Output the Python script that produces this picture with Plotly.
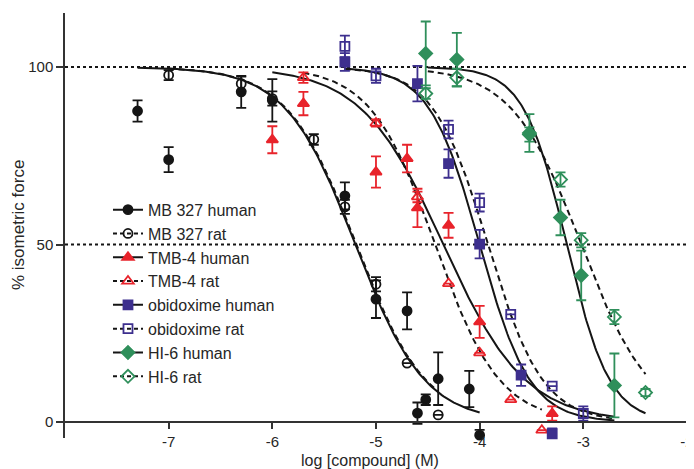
import numpy as np
import plotly.graph_objects as go

# ---------------- data ----------------
series_names = ["MB 327 human", "MB 327 rat", "TMB-4 human", "TMB-4 rat",
                "obidoxime human", "obidoxime rat", "HI-6 human", "HI-6 rat"]

mb327_human_x = [-7.3, -7.0, -6.3, -6.0, -5.3, -5.0, -4.7, -4.6, -4.52, -4.4, -4.1, -4.0]
mb327_human_y = [87.6, 73.9, 93.0, 90.6, 63.7, 34.6, 31.3, 2.5, 6.3, 12.2, 9.3, -3.7]
mb327_human_e = [3.0, 3.5, 4.5, 6.0, 3.8, 5.3, 5.2, 3.0, 1.5, 7.4, 5.1, 1.5]

mb327_rat_x = [-7.0, -6.3, -6.0, -5.6, -5.3, -5.0, -4.7, -4.4]
mb327_rat_y = [97.7, 95.3, 91.1, 79.6, 60.6, 38.8, 16.6, 2.0]
mb327_rat_e = [1.4, 2.0, 2.0, 1.5, 2.0, 2.0, 0.0, 0.0]

tmb4_human_x = [-6.0, -5.7, -5.0, -4.7, -4.6, -4.3, -4.0, -3.3]
tmb4_human_y = [79.5, 89.7, 70.4, 74.2, 60.3, 55.4, 28.2, 2.4]
tmb4_human_e = [3.8, 3.3, 4.4, 3.9, 5.4, 3.5, 4.5, 2.0]

tmb4_rat_x = [-5.7, -5.0, -4.6, -4.3, -4.0, -3.7, -3.4]
tmb4_rat_y = [97.0, 84.2, 63.4, 39.0, 19.5, 6.3, -2.3]
tmb4_rat_e = [1.5, 1.0, 1.5, 0.0, 0.0, 0.0, 0.0]

obid_human_x = [-5.3, -4.6, -4.3, -4.0, -3.6, -3.3]
obid_human_y = [101.4, 95.3, 72.8, 50.1, 13.2, -3.3]
obid_human_e = [2.5, 5.0, 4.0, 4.0, 3.0, 1.5]

obid_rat_x = [-5.3, -5.0, -4.3, -4.0, -3.7, -3.3, -3.0]
obid_rat_y = [105.8, 97.5, 82.4, 61.8, 30.3, 10.1, 2.4]
obid_rat_e = [3.0, 2.0, 2.5, 2.5, 0.0, 0.0, 2.0]

hi6_human_x = [-4.52, -4.22, -3.52, -3.22, -3.02, -2.7]
hi6_human_y = [103.8, 102.1, 81.4, 57.6, 41.3, 10.3]
hi6_human_e = [9.0, 7.5, 5.3, 5.0, 7.0, 9.0]

hi6_rat_x = [-4.52, -4.22, -3.52, -3.22, -3.02, -2.7, -2.4]
hi6_rat_y = [92.5, 97.0, 81.0, 68.3, 51.2, 29.6, 8.3]
hi6_rat_e = [1.5, 2.5, 2.0, 2.0, 2.0, 2.0, 1.0]

# sigmoidal (Hill) fit parameters
fit_log_ic50 = [-5.20, -5.19, -4.35, -4.43, -4.00, -3.92, -3.16, -3.02]
fit_hill = [1.3, 1.3, 1.1, 1.4, 1.8, 1.65, 2.1, 1.3]
fit_x_from = [-7.3, -7.0, -6.0, -5.7, -5.3, -5.3, -4.5, -4.5]
fit_x_to = [-4.0, -4.4, -2.7, -3.4, -2.7, -2.7, -2.4, -2.4]

x_tick_vals = [-7, -6, -5, -4, -3, -2]
x_tick_text = ["-7", "-6", "-5", "-4", "-3", "-2"]
y_tick_vals = [0, 50, 100]
ref_levels = [100, 50]

# ---------------- styles ----------------
BLACK = "#151515"
RED = "#e8232b"
BLUE = "#3d2f8e"
GREEN = "#2f8f5b"
FONT = "Liberation Sans, Arial, sans-serif"
TXT = "#262626"

data_sets = [
    (mb327_human_x, mb327_human_y, mb327_human_e),
    (mb327_rat_x, mb327_rat_y, mb327_rat_e),
    (tmb4_human_x, tmb4_human_y, tmb4_human_e),
    (tmb4_rat_x, tmb4_rat_y, tmb4_rat_e),
    (obid_human_x, obid_human_y, obid_human_e),
    (obid_rat_x, obid_rat_y, obid_rat_e),
    (hi6_human_x, hi6_human_y, hi6_human_e),
    (hi6_rat_x, hi6_rat_y, hi6_rat_e),
]
colors = [BLACK, BLACK, RED, RED, BLUE, BLUE, GREEN, GREEN]
symbols = ["circle", "circle-open", "triangle-up", "triangle-up-open",
           "square", "square-open", "diamond", "diamond-open"]
sizes = [9, 9, 10, 10, 9, 9, 10, 10]
dashes = ["solid", "dash", "solid", "dash", "solid", "dash", "solid", "dash"]

fig = go.Figure()

# fitted curves
for i in range(8):
    xs = np.linspace(fit_x_from[i], fit_x_to[i], 200)
    ys = 100.0 / (1.0 + 10 ** ((xs - fit_log_ic50[i]) * fit_hill[i]))
    fig.add_trace(go.Scatter(x=xs, y=ys, mode="lines", showlegend=False,
                             hoverinfo="skip",
                             line=dict(color=BLACK, width=2,
                                       dash="solid" if dashes[i] == "solid" else "6px,4px")))

# data points with error bars
for i, (xs, ys, es) in enumerate(data_sets):
    fig.add_trace(go.Scatter(
        x=xs, y=ys, mode="markers", showlegend=False, cliponaxis=False,
        marker=dict(symbol=symbols[i], size=sizes[i], color=colors[i],
                    line=dict(color=colors[i], width=1.8)),
        error_y=dict(type="data", array=es, visible=True, color=colors[i],
                     thickness=1.8, width=5),
        name=series_names[i]))

# legend entries
for i in range(8):
    fig.add_trace(go.Scatter(
        x=[None], y=[None], mode="lines+markers", name=series_names[i],
        line=dict(color=BLACK, width=2, dash="solid" if dashes[i] == "solid" else "4px,3px"),
        marker=dict(symbol=symbols[i], size=sizes[i], color=colors[i],
                    line=dict(color=colors[i], width=1.8))))

# dotted reference lines
for lv in ref_levels:
    fig.add_shape(type="line", xref="paper", yref="y", x0=0, x1=1, y0=lv, y1=lv,
                  line=dict(color=BLACK, width=2, dash="dot"), layer="below")

# the page body adds an 8px margin, so the figure is 8px smaller and the
# margins are reduced accordingly to keep the plot area at the same spot
fig.update_layout(
    width=686, height=461,
    margin=dict(l=57, r=6, t=5, b=31),
    paper_bgcolor="white", plot_bgcolor="white",
    font=dict(family=FONT, size=15, color=TXT),
    showlegend=True,
    legend=dict(x=0.069, y=0.577, xanchor="left", yanchor="top",
                font=dict(size=16, family=FONT, color=TXT),
                bgcolor="rgba(0,0,0,0)", borderwidth=0, tracegroupgap=0,
                itemwidth=30),
    xaxis=dict(range=[-8, -1.99], anchor="free", position=4.5 / 119.7,
               showline=True, linecolor="#333", linewidth=1.5,
               ticks="outside", ticklen=6, tickwidth=1.5, tickcolor="#333",
               tickvals=x_tick_vals, ticktext=x_tick_text,
               ticklabeloverflow="allow",
               tickfont=dict(size=15, family=FONT, color=TXT),
               showgrid=False, zeroline=False, automargin=False),
    yaxis=dict(range=[-4.5, 115.2], showline=True, linecolor="#333", linewidth=1.5,
               ticks="outside", ticklen=7, tickwidth=1.5, tickcolor="#333",
               tickvals=y_tick_vals, tickfont=dict(size=15, family=FONT, color=TXT),
               showgrid=False, zeroline=False, automargin=False),
    annotations=[
        dict(text="log [compound] (M)", xref="paper", yref="paper",
             x=(370 - 65) / 623, y=(438 - 460) / 425, xanchor="center", yanchor="middle",
             showarrow=False, font=dict(size=16, family=FONT, color=TXT)),
        dict(text="% isometric force", xref="paper", yref="paper",
             x=(19 - 65) / 623, y=(438 - 225) / 425, xanchor="center", yanchor="middle",
             textangle=-90, showarrow=False, font=dict(size=17, family=FONT, color=TXT)),
    ],
)

fig.write_html("out.html")
